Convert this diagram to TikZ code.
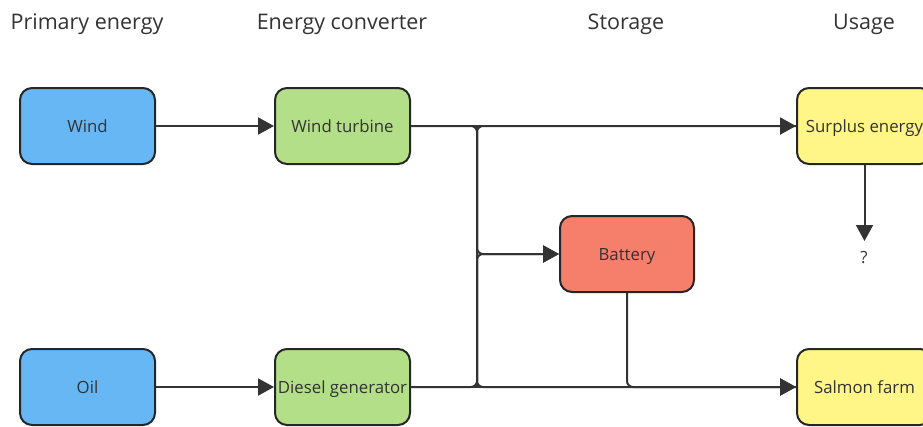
\documentclass[tikz,border=0pt]{standalone}
\usepackage{fontspec}
\setmainfont{Open Sans}
\usetikzlibrary{arrows.meta}
\definecolor{cblue}{RGB}{104,183,245}
\definecolor{cgreen}{RGB}{178,223,135}
\definecolor{cred}{RGB}{245,127,106}
\definecolor{cyellow}{RGB}{255,246,135}
\definecolor{cline}{RGB}{51,51,51}
\definecolor{ctext}{RGB}{51,51,51}
\begin{document}
\begin{tikzpicture}[x=1pt,y=-1pt,
  box/.style={draw=black!85,line width=2pt,rounded corners=12pt,minimum width=135pt,minimum height=76pt,inner sep=0pt,font=\fontsize{16.8}{18}\selectfont,text=ctext,text height=12pt,text depth=0pt},
  head/.style={font=\fontsize{21.5}{24}\selectfont,text=ctext,text height=15.4pt,text depth=0pt,inner sep=0pt},
  conn/.style={draw=cline,line width=2pt,rounded corners=6pt},
  arr/.style={conn,-{Triangle[length=16pt,width=17pt]}}]
\useasboundingbox (0,0) rectangle (923,426);
\node[head] (h1) at (87,22) {Primary energy};
\node[head] (h2) at (342,22) {Energy converter};
\node[head] (h3) at (626,22) {Storage};
\node[head] (h4) at (864,22) {Usage};
\node[box,fill=cblue] (wind) at (87.5,126) {Wind};
\node[box,fill=cblue] (oil) at (87.5,387) {Oil};
\node[box,fill=cgreen] (wt) at (342.5,126) {Wind turbine};
\node[box,fill=cgreen] (dg) at (342.5,387) {Diesel generator};
\node[box,fill=cred,minimum width=134pt] (bat) at (627,254) {Battery};
\node[box,fill=cyellow] (sur) at (864.5,126) {Surplus energy};
\node[box,fill=cyellow] (sal) at (864.5,387) {Salmon farm};
\node[font=\fontsize{16.8}{18}\selectfont,text=ctext,text height=12pt,text depth=0pt,inner sep=0pt] (q) at (864,257) {?};
\coordinate (bt) at (477,126);
\coordinate (bm) at (477,254);
\coordinate (bb) at (477,387);
\draw[arr] (wind) -- (wt);
\draw[arr] (oil) -- (dg);
\draw[arr] (wt) -- (sur);
\draw[arr] (dg) -- (sal);
\draw[conn] (wt.east) -- (bt) -- (bm);
\draw[conn] (dg.east) -- (bb) -- (bm);
\draw[conn] (bm) -- (bt) -- (sur.west);
\draw[conn] (bm) -- (bb) -- (sal.west);
\draw[arr] (bb) -- (bm) -- (bat);
\draw[arr] (bt) -- (bm) -- (bat);
\draw[arr] (bat.south) |- (sal.west);
\draw[arr] (sur.south) -- ([yshift=-76pt]sur.south);
\end{tikzpicture}
\end{document}
